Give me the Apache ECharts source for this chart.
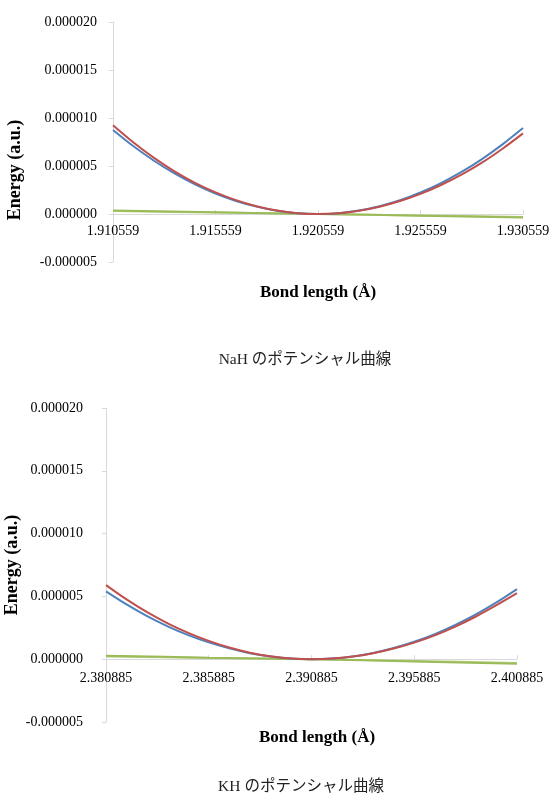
<!DOCTYPE html>
<html><head><meta charset="utf-8">
<script src="https://cdn.jsdelivr.net/npm/echarts@6/dist/echarts.min.js"></script>
<style>html,body{margin:0;padding:0;background:#fff}#c{width:555px;height:805px}</style>
</head><body><div id="c"></div>
<script>
// ---- NaH data ----
const nahX = [1.910559,1.911559,1.912559,1.913559,1.914559,1.915559,1.916559,1.917559,1.918559,1.919559,1.920559,
              1.921559,1.922559,1.923559,1.924559,1.925559,1.926559,1.927559,1.928559,1.929559,1.930559];
const nahRed  = [9.25e-6,7.45e-6,5.85e-6,4.45e-6,3.25e-6,2.25e-6,1.44e-6,0.81e-6,0.36e-6,0.09e-6,0,
                 0.085e-6,0.34e-6,0.76e-6,1.35e-6,2.1e-6,3.02e-6,4.1e-6,5.35e-6,6.8e-6,8.4e-6];
const nahBlue = [8.75e-6,7.05e-6,5.55e-6,4.22e-6,3.08e-6,2.13e-6,1.36e-6,0.77e-6,0.34e-6,0.085e-6,0,
                 0.09e-6,0.36e-6,0.81e-6,1.43e-6,2.24e-6,3.22e-6,4.38e-6,5.72e-6,7.25e-6,8.95e-6];
const nahGreenX = [1.910559,1.915559,1.920559,1.925559,1.930559];
const nahGreen1 = [0.36e-6,0.18e-6,0,-0.18e-6,-0.36e-6];
const nahGreen2 = [0.30e-6,0.15e-6,0,-0.15e-6,-0.30e-6];
// ---- KH data ----
const khX = [2.380885,2.381885,2.382885,2.383885,2.384885,2.385885,2.386885,2.387885,2.388885,2.389885,2.390885,
             2.391885,2.392885,2.393885,2.394885,2.395885,2.396885,2.397885,2.398885,2.399885,2.400885];
const khRed  = [5.9e-6,4.76e-6,3.74e-6,2.86e-6,2.1e-6,1.46e-6,0.93e-6,0.52e-6,0.23e-6,0.06e-6,0,
                0.05e-6,0.21e-6,0.48e-6,0.85e-6,1.32e-6,1.9e-6,2.6e-6,3.4e-6,4.3e-6,5.26e-6];
const khBlue = [5.4e-6,4.36e-6,3.43e-6,2.62e-6,1.92e-6,1.34e-6,0.86e-6,0.48e-6,0.21e-6,0.05e-6,0,
                0.056e-6,0.22e-6,0.5e-6,0.89e-6,1.39e-6,2.0e-6,2.73e-6,3.57e-6,4.52e-6,5.58e-6];
const khGreenX = [2.380885,2.385885,2.390885,2.395885,2.400885];
const khGreen1 = [0.28e-6,0.12e-6,0,-0.18e-6,-0.36e-6];
const khGreen2 = [0.22e-6,0.10e-6,0,-0.14e-6,-0.30e-6];
// ---- axis ticks / text ----
const nahXTicks = [1.910559, 1.915559, 1.920559, 1.925559, 1.930559];
const khXTicks = [2.380885, 2.385885, 2.390885, 2.395885, 2.400885];
const yTicks = [-0.000005, 0, 0.000005, 0.00001, 0.000015, 0.00002];
const yName = 'Energy (a.u.)';
const xName = 'Bond length (Å)';
const captions = ['NaH のポテンシャル曲線', 'KH のポテンシャル曲線'];

const pairs = (xs, ys) => xs.map((x, i) => [x, ys[i]]);
const FONT = '"Liberation Serif", "Times New Roman", serif';
const CAPFONT = '15.5px "Liberation Serif", "Noto Sans CJK JP", serif';
const AX = '#d9d9d9';
const fmtY = v => (Math.abs(v) < 1e-12 ? 0 : v).toFixed(6);
const fmtX = v => v.toFixed(6);

function xAxisCfg(g, ticks, off, m) {
  return {gridIndex: g, type: 'value', min: ticks[0], max: ticks[ticks.length - 1],
    offset: off,
    axisLine: {onZero: false, lineStyle: {color: AX, width: 1}},
    axisTick: {show: true, inside: true, length: 4, customValues: ticks, lineStyle: {color: AX}},
    axisLabel: {customValues: ticks, formatter: fmtX, color: '#000', fontFamily: FONT, fontSize: 14, margin: m},
    splitLine: {show: false}};
}
function yAxisCfg(g, m) {
  return {gridIndex: g, type: 'value', min: yTicks[0], max: yTicks[yTicks.length - 1],
    axisLine: {show: true, onZero: false, lineStyle: {color: AX, width: 1}},
    axisTick: {show: true, length: 4, customValues: yTicks, lineStyle: {color: AX}},
    axisLabel: {customValues: yTicks, formatter: fmtY, color: '#000', fontFamily: FONT, fontSize: 14, margin: m},
    splitLine: {show: false}};
}
function line(xi, yi, data, color, w) {
  return {type: 'line', xAxisIndex: xi, yAxisIndex: yi, data: data, showSymbol: false, smooth: 0.3,
    lineStyle: {color: color, width: w}, itemStyle: {color: color}, silent: true, animation: false};
}
const GREEN = '#9bbb59', GREEN2 = '#b5cf83', BLUE = '#4f81bd', RED = '#c0504d';

const chart = echarts.init(document.getElementById('c'), null, {renderer: 'canvas'});
chart.setOption({
  animation: false,
  grid: [
    {left: 113, right: 32, top: 22, height: 240},
    {left: 106, right: 38, top: 408, height: 314}
  ],
  xAxis: [xAxisCfg(0, nahXTicks, -48, 10), xAxisCfg(1, khXTicks, -62.8, 12)],
  yAxis: [yAxisCfg(0, 16), yAxisCfg(1, 23)],
  series: [
    line(0, 0, pairs(nahGreenX, nahGreen2), GREEN2, 2),
    line(0, 0, pairs(nahGreenX, nahGreen1), GREEN, 2),
    line(0, 0, pairs(nahX, nahBlue), BLUE, 2),
    line(0, 0, pairs(nahX, nahRed), RED, 2),
    line(1, 1, pairs(khGreenX, khGreen2), GREEN2, 2),
    line(1, 1, pairs(khGreenX, khGreen1), GREEN, 2),
    line(1, 1, pairs(khX, khBlue), BLUE, 2),
    line(1, 1, pairs(khX, khRed), RED, 2)
  ],
  graphic: [
    {type: 'text', x: 15, y: 170, rotation: Math.PI / 2,
      style: {text: yName, font: 'bold 18px ' + FONT, fill: '#000', align: 'center', verticalAlign: 'middle'}},
    {type: 'text', x: 12, y: 565, rotation: Math.PI / 2,
      style: {text: yName, font: 'bold 18px ' + FONT, fill: '#000', align: 'center', verticalAlign: 'middle'}},
    {type: 'text', x: 318, y: 293,
      style: {text: xName, font: 'bold 17px ' + FONT, fill: '#000', align: 'center', verticalAlign: 'middle'}},
    {type: 'text', x: 317, y: 738,
      style: {text: xName, font: 'bold 17px ' + FONT, fill: '#000', align: 'center', verticalAlign: 'middle'}},
    {type: 'text', x: 305, y: 360,
      style: {text: captions[0], font: CAPFONT, fill: '#222', align: 'center', verticalAlign: 'middle'}},
    {type: 'text', x: 301, y: 787,
      style: {text: captions[1], font: CAPFONT, fill: '#222', align: 'center', verticalAlign: 'middle'}}
  ]
});
</script>
</body></html>
